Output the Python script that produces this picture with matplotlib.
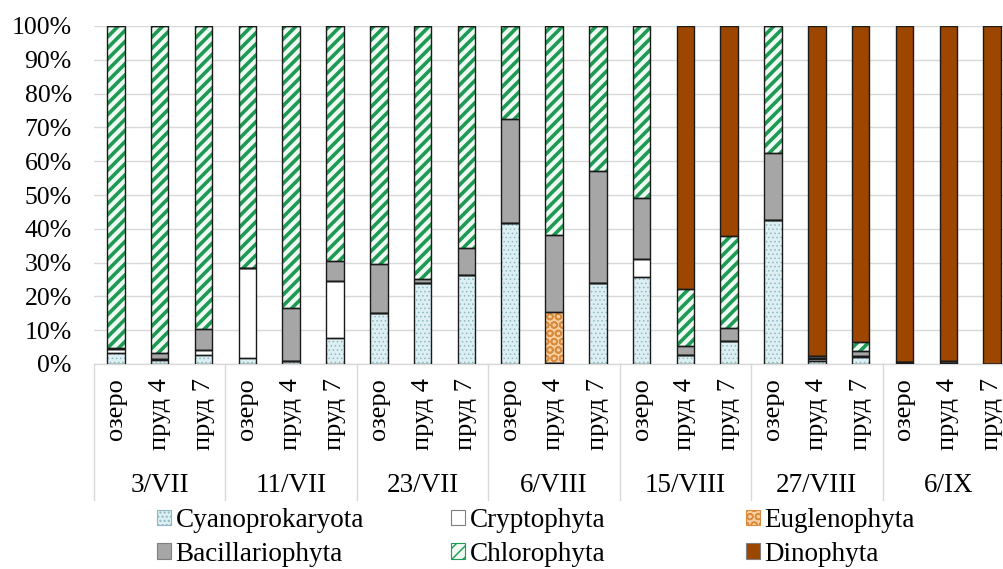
import matplotlib
matplotlib.use("Agg")
import matplotlib.pyplot as plt
import matplotlib.patches as mpatches
import matplotlib.transforms as mtransforms
import numpy as np

plt.rcParams['font.family'] = ['Liberation Serif', 'DejaVu Serif']

# ── data (percent of total biomass) ─────────────────────────────────────────
dates = ["3/VII", "11/VII", "23/VII", "6/VIII", "15/VIII", "27/VIII", "6/IX"]
sites = ["озеро", "пруд 4", "пруд 7"]

cyano   = [3.3, 1.2, 2.8, 1.8, 0.8, 7.7, 15.1, 23.9, 26.4, 41.8, 0.3, 24.0,
           25.7, 2.8, 6.9, 42.7, 1.0, 2.0, 0.3, 0.2, 0.0]
crypto  = [1.0, 0.3, 1.2, 26.7, 0.0, 16.8, 0.0, 0.0, 0.0, 0.0, 0.0, 0.0,
           5.4, 0.0, 0.0, 0.0, 0.5, 0.3, 0.2, 0.0, 0.0]
eugleno = [0.0, 0.0, 0.0, 0.0, 0.0, 0.0, 0.0, 0.0, 0.0, 0.0, 15.0, 0.0,
           0.0, 0.0, 0.0, 0.0, 0.4, 0.0, 0.0, 0.0, 0.0]
bacill  = [0.3, 1.8, 6.4, 0.0, 15.8, 5.9, 14.5, 1.3, 8.0, 30.6, 22.9, 33.0,
           18.1, 2.4, 3.8, 19.8, 0.6, 1.5, 0.0, 0.6, 0.0]
chloro  = [95.4, 96.7, 89.6, 71.5, 83.4, 69.6, 70.4, 74.8, 65.6, 27.6, 61.8, 43.0,
           50.8, 17.0, 27.1, 37.5, 0.0, 2.7, 0.0, 0.0, 0.0]
dino    = [0.0, 0.0, 0.0, 0.0, 0.0, 0.0, 0.0, 0.0, 0.0, 0.0, 0.0, 0.0,
           0.0, 77.8, 62.2, 0.0, 97.5, 93.5, 99.5, 99.2, 100.0]

# name, values, face, hatch, hatch colour, hatch linewidth
SERIES = [
    ("Cyanoprokaryota", cyano,   "#DCEFF3", "....", "#8FB8C2", 0.6),
    ("Cryptophyta",     crypto,  "#FFFFFF", None,   None,      0.0),
    ("Euglenophyta",    eugleno, "#F8CFA0", "OO",   "#D98A3A", 1.2),
    ("Bacillariophyta", bacill,  "#A6A6A6", None,   None,      0.0),
    ("Chlorophyta",     chloro,  "#EEFAF2", "///",  "#1E9A55", 2.6),
    ("Dinophyta",       dino,    "#9C4600", None,   None,      0.0),
]

GRID = "#D9D9D9"
FS = 18.5
FS_BIG = 19.5
FS_ROT = 19

fig = plt.figure(figsize=(10.04, 5.69), dpi=100, facecolor="white")
ax = fig.add_axes([94 / 1004, 1 - 364 / 569, 920 / 1004, 338 / 569])

x = np.arange(len(cyano))
width = 0.40
bottom = np.zeros(len(x))
handles = {}
for name, vals, face, hatch, hcol, hlw in SERIES:
    vals = np.array(vals)
    if hatch:
        with plt.rc_context({"hatch.linewidth": hlw}):
            bars = ax.bar(x, vals, width, bottom=bottom, color=face,
                          edgecolor=hcol, hatch=hatch, linewidth=0, zorder=2)
            for b in bars:
                if hasattr(b, "set_hatch_linewidth"):
                    b.set_hatch_linewidth(hlw)
    else:
        ax.bar(x, vals, width, bottom=bottom, color=face, linewidth=0, zorder=2)
    # outlines
    ax.bar(x, vals, width, bottom=bottom, fill=False, edgecolor="#1a1a1a",
           linewidth=1.0, zorder=3)
    with plt.rc_context({"hatch.linewidth": hlw if hlw else 1.0}):
        h = mpatches.Patch(facecolor=face, edgecolor=hcol if hcol else "#7f7f7f",
                           hatch=hatch, linewidth=0.8)
        if hatch and hasattr(h, "set_hatch_linewidth"):
            h.set_hatch_linewidth(max(hlw * 0.6, 0.5))
    handles[name] = h
    bottom += vals

ax.set_xlim(-0.5, len(x) - 0.5)
ax.set_ylim(0, 100)
ax.set_yticks(np.arange(0, 101, 10))
ax.set_yticklabels([f"{v}%" for v in range(0, 101, 10)], fontsize=FS)
ax.tick_params(axis="y", length=0, pad=16)
ax.grid(axis="y", color=GRID, linewidth=1.0, zorder=0)
ax.set_axisbelow(True)
for s in ("top", "right", "left"):
    ax.spines[s].set_visible(False)
ax.spines["bottom"].set_color(GRID)
ax.spines["bottom"].set_linewidth(1.0)
ax.set_xticks([])

# multi-level category axis
trans = mtransforms.blended_transform_factory(ax.transData, ax.transAxes)
px = 1 / 338
for i in x:
    ax.text(i, -14 * px, sites[i % 3], transform=trans, rotation=90,
            ha="center", va="top", fontsize=FS_ROT, clip_on=False)
for g, d in enumerate(dates):
    ax.text(g * 3 + 1, -122 * px, d, transform=trans, ha="center", va="center",
            fontsize=FS_BIG, clip_on=False)
for g in range(len(dates) + 1):
    ax.plot([g * 3 - 0.5] * 2, [0, -136 * px], transform=trans, color=GRID,
            linewidth=1.0, clip_on=False)

# legend: three columns of two entries
cols = [("Cyanoprokaryota", "Bacillariophyta"),
        ("Cryptophyta", "Chlorophyta"),
        ("Euglenophyta", "Dinophyta")]
col_x = [157, 451, 746]
for cx, names in zip(col_x, cols):
    fig.legend([handles[n] for n in names], list(names),
               loc="upper left", bbox_to_anchor=(cx / 1004, 1 - 508 / 569),
               frameon=False, fontsize=FS_BIG, handlelength=0.5, handleheight=0.5,
               handletextpad=0.18, labelspacing=0.32, borderpad=0, borderaxespad=0)

fig.savefig("out.png", dpi=100, facecolor="white")
